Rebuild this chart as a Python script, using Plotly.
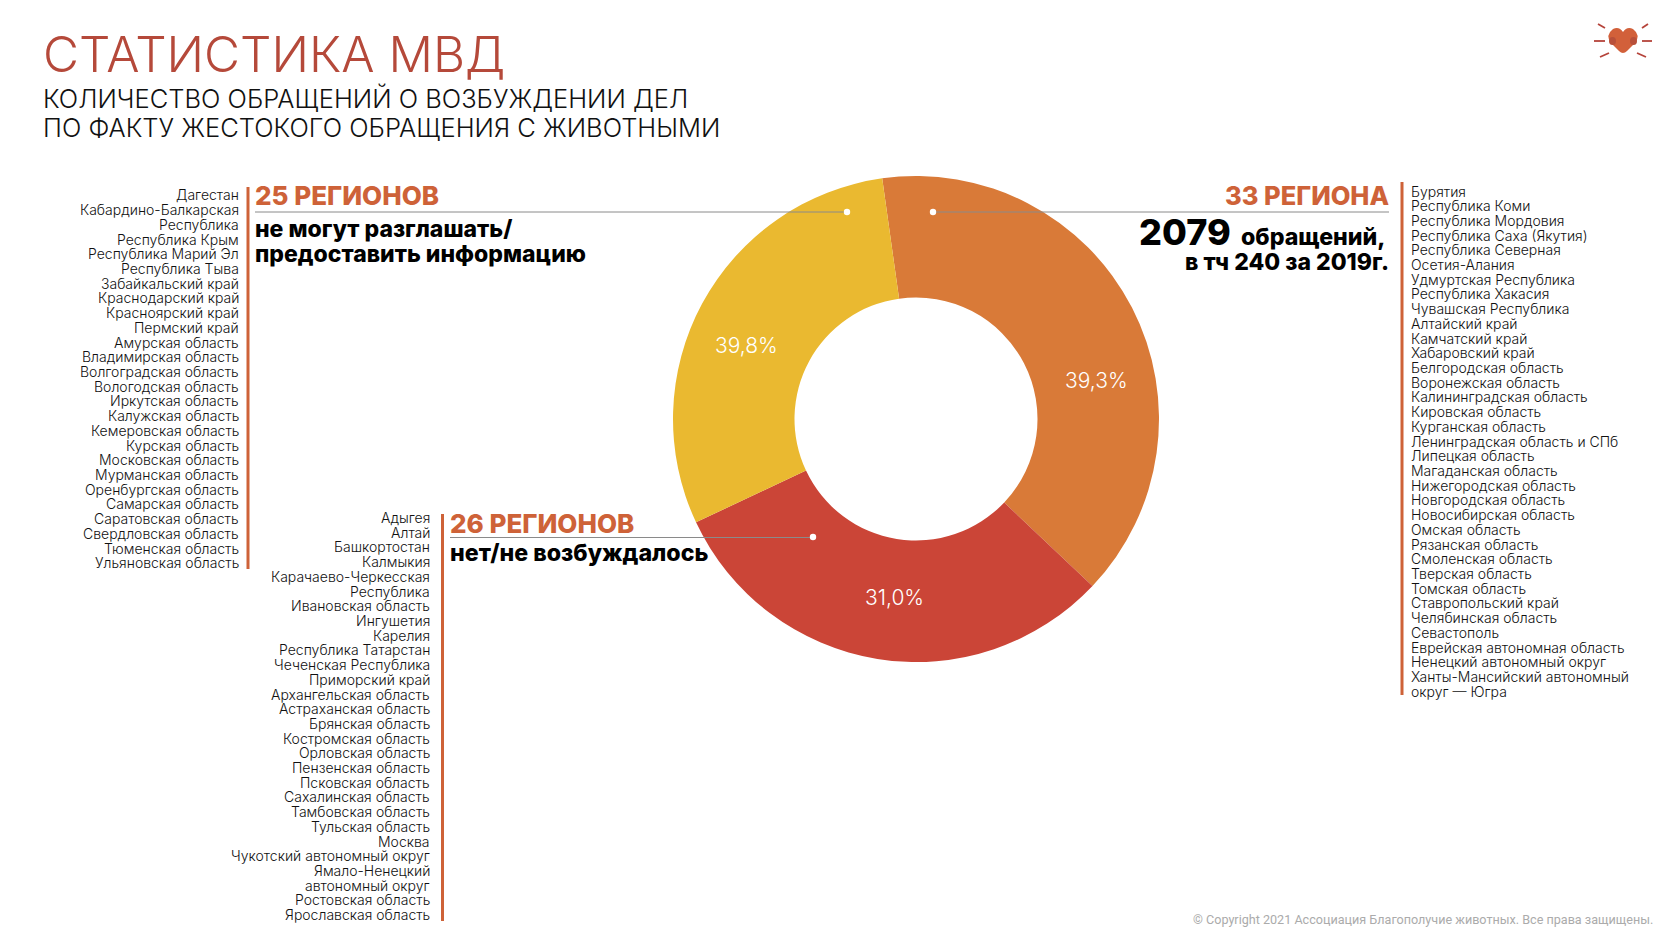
import plotly.graph_objects as go

W, H = 1680, 945

categories = ["33 региона", "26 регионов", "25 регионов"]
values = [33, 26, 25]
slice_colors = ["#D97A38", "#CB4537", "#EAB930"]
pct_labels = ["39,3%", "31,0%", "39,8%"]
pct_pos = [(1096.5, 380.5), (894.5, 597), (746, 346)]

list_a = ["Дагестан", "Кабардино-Балкарская", "Республика", "Республика Крым", "Республика Марий Эл",
          "Республика Тыва", "Забайкальский край", "Краснодарский край", "Красноярский край", "Пермский край",
          "Амурская область", "Владимирская область", "Волгоградская область", "Вологодская область",
          "Иркутская область", "Калужская область", "Кемеровская область", "Курская область",
          "Московская область", "Мурманская область", "Оренбургская область", "Самарская область",
          "Саратовская область", "Свердловская область", "Тюменская область", "Ульяновская область"]
list_b = ["Адыгея", "Алтай", "Башкортостан", "Калмыкия", "Карачаево-Черкесская", "Республика",
          "Ивановская область", "Ингушетия", "Карелия", "Республика Татарстан", "Чеченская Республика",
          "Приморский край", "Архангельская область", "Астраханская область", "Брянская область",
          "Костромская область", "Орловская область", "Пензенская область", "Псковская область",
          "Сахалинская область", "Тамбовская область", "Тульская область", "Москва",
          "Чукотский автономный округ", "Ямало-Ненецкий", "автономный округ", "Ростовская область",
          "Ярославская область"]
list_c = ["Бурятия", "Республика Коми", "Республика Мордовия", "Республика Саха (Якутия)", "Республика Северная",
          "Осетия-Алания", "Удмуртская Республика", "Республика Хакасия", "Чувашская Республика", "Алтайский край",
          "Камчатский край", "Хабаровский край", "Белгородская область", "Воронежская область",
          "Калининградская область", "Кировская область", "Курганская область", "Ленинградская область и СПб",
          "Липецкая область", "Магаданская область", "Нижегородская область", "Новгородская область",
          "Новосибирская область", "Омская область", "Рязанская область", "Смоленская область", "Тверская область",
          "Томская область", "Ставропольский край", "Челябинская область", "Севастополь",
          "Еврейская автономная область", "Ненецкий автономный округ", "Ханты-Мансийский автономный", "округ — Югра"]

CX, CY, R = 916, 419, 243
ACC = "#CE6238"
FONT = "Inter"


def px(x):
    return x / W


def py(y):
    return 1 - y / H


anns, shapes = [], []


def text(x, y, s, size, color="#111111", anchor="left", weight=400, family=FONT, height=None):
    a = dict(xref="paper", yref="paper", x=px(x), y=py(y), text=s, showarrow=False,
             xanchor=anchor, yanchor="middle", align=anchor,
             font=dict(size=size, color=color, family=family, weight=weight))
    if height:
        a["height"] = height
    anns.append(a)


def line(x0, y0, x1, y1, color, width):
    shapes.append(dict(type="line", xref="paper", yref="paper", x0=px(x0), y0=py(y0), x1=px(x1), y1=py(y1),
                       line=dict(color=color, width=width)))


def dot(x, y, r=3.2):
    shapes.append(dict(type="circle", xref="paper", yref="paper", x0=px(x - r), x1=px(x + r),
                       y0=py(y - r), y1=py(y + r), fillcolor="white", line=dict(width=0)))


# Titles
text(41, 54, "СТАТИСТИКА МВД", 49.4, "#B5493A", weight=300)
text(41, 98, "КОЛИЧЕСТВО ОБРАЩЕНИЙ О ВОЗБУЖДЕНИИ ДЕЛ", 25.5, "#111111", weight=300)
text(41, 127, "ПО ФАКТУ ЖЕСТОКОГО ОБРАЩЕНИЯ С ЖИВОТНЫМИ", 25.5, "#111111", weight=300)

# Region lists
STEP = 14.71
for i, s in enumerate(list_a):
    text(241, 195 + i * STEP, s, 14, anchor="right", weight=300)
for i, s in enumerate(list_b):
    text(432, 517.5 + i * STEP, s, 14, anchor="right", weight=300)
for i, s in enumerate(list_c):
    text(1409, 191 + i * STEP, s, 14, anchor="left", weight=300)

# Bars
line(248, 187, 248, 569, ACC, 3)
line(442.5, 514, 442.5, 921, ACC, 3)
line(1402, 182, 1402, 695, ACC, 3)

# Leaders
line(255, 212, 847, 212, "#8A8A8A", 1)
line(450, 537.5, 813, 537.5, "#8A8A8A", 1)
line(933, 212, 1389, 212, "#8A8A8A", 1)
dot(847, 212)
dot(813, 537)
dot(933, 212)

# Headers
text(253, 196, "25 РЕГИОНОВ", 26, ACC, weight=800)
text(448, 523, "26 РЕГИОНОВ", 26, ACC, weight=800)
text(1391, 196, "33 РЕГИОНА", 25.5, ACC, anchor="right", weight=800)
text(253, 229, "не могут разглашать/", 23, "#000000", weight=800)
text(253, 254, "предоставить информацию", 23, "#000000", weight=800)
text(448, 553, "нет/не возбуждалось", 23.2, "#000000", weight=800)
text(1233, 232, "2079", 36, "#000000", anchor="right", weight=800, height=30)
text(1387, 237, "обращений,", 23.2, "#000000", anchor="right", weight=800)
text(1391, 262, "в тч 240 за 2019г.", 23, "#000000", anchor="right", weight=800)

for lab, (x, y) in zip(pct_labels, pct_pos):
    text(x, y, lab, 21, "white", anchor="center", weight=300)

# Copyright
text(1655, 919, "© Copyright 2021 Ассоциация Благополучие животных. Все права защищены.", 12.6, "#ABABAB",
     anchor="right", family="Roboto")

# Heart logo
heart = (f"M {px(1623)} {py(53)} Q {px(1621)} {py(53)} {px(1619)} {py(51)} L {px(1611)} {py(43)} "
         f"Q {px(1605)} {py(35)} {px(1613)} {py(29)} Q {px(1619)} {py(26)} {px(1623)} {py(32)} "
         f"Q {px(1627)} {py(26)} {px(1633)} {py(29)} Q {px(1641)} {py(35)} {px(1635)} {py(43)} "
         f"L {px(1627)} {py(51)} Q {px(1625)} {py(53)} {px(1623)} {py(53)} Z")
shapes.append(dict(type="path", xref="paper", yref="paper", path=heart, fillcolor="#D2603A", line=dict(width=0)))
for cx_ in (1612.5, 1633.5):
    shapes.append(dict(type="circle", xref="paper", yref="paper", x0=px(cx_ - 3.5), x1=px(cx_ + 3.5),
                       y0=py(37), y1=py(45), fillcolor="#B8503A", line=dict(width=0)))
for a in [(1594, 41, 1605, 41), (1642, 41, 1652, 41), (1598, 24, 1605, 28), (1642, 28, 1648, 24),
          (1600, 57, 1609, 53), (1637, 53, 1646, 57)]:
    line(*a, "#B5433A", 1.8)

fig = go.Figure(go.Pie(
    labels=categories, values=values, sort=False, direction="clockwise", rotation=-8, hole=0.5,
    marker=dict(colors=slice_colors, line=dict(width=0)), textinfo="none", hoverinfo="label+value",
    domain=dict(x=[px(CX - R), px(CX + R)], y=[py(CY + R), py(CY - R)]),
))
fig.update_layout(width=W, height=H, margin=dict(l=0, r=0, t=0, b=0), showlegend=False,
                  paper_bgcolor="white", annotations=anns, shapes=shapes)
fig.write_html("out.html", config=dict(displayModeBar=False),
               post_script="document.body.style.margin='0';document.body.style.overflow='hidden';")
